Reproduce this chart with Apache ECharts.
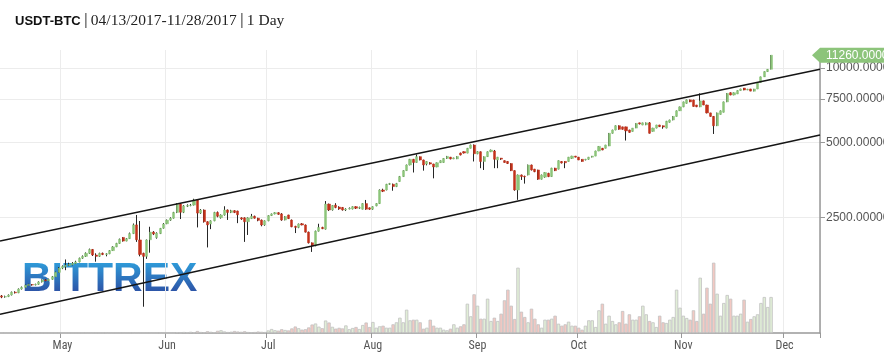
<!DOCTYPE html>
<html>
<head>
<meta charset="utf-8">
<title>USDT-BTC</title>
<script src="https://cdn.jsdelivr.net/npm/echarts@6/dist/echarts.min.js"></script>
<style>
  html, body { margin: 0; padding: 0; background: #fff; }
  #wrap { position: relative; width: 884px; height: 352px; }
  #chart { position: absolute; left: 0; top: 0; width: 884px; height: 352px; z-index: 2; }
  #logo {
    position: absolute; left: 22px; top: 254px; z-index: 1;
    font: bold 41px "Liberation Sans", Arial, sans-serif; line-height: 46px;
    background: linear-gradient(#2fb0e8, #2c3f98);
    -webkit-background-clip: text; background-clip: text; color: transparent;
  }
</style>
</head>
<body>
<div id="wrap">
  <div id="logo">BITTREX</div>
  <div id="chart"></div>
</div>
<script>
// daily candles from 2017-04-13, [open, close, low, high]
const candles = [
  [1205,1192,1180,1215],[1192,1198,1185,1208],[1198,1215,1192,1222],[1215,1248,1210,1255],[1248,1240,1232,1258],
  [1240,1285,1236,1292],[1285,1305,1278,1315],[1305,1330,1298,1340],[1330,1338,1322,1348],[1338,1334,1325,1346],
  [1334,1342,1328,1350],[1342,1372,1336,1380],[1372,1398,1365,1405],[1398,1388,1380,1410],[1388,1406,1382,1415],
  [1406,1440,1400,1450],[1440,1500,1435,1510],[1500,1560,1495,1575],[1560,1585,1545,1600],[1585,1600,1530,1690],
  [1600,1612,1590,1640],[1612,1630,1600,1650],[1630,1652,1620,1670],[1652,1710,1645,1720],[1710,1740,1700,1755],
  [1740,1790,1730,1805],[1790,1855,1780,1870],[1855,1762,1745,1862],[1762,1740,1656,1790],[1740,1790,1730,1800],
  [1790,1770,1760,1802],[1770,1782,1740,1792],[1782,1835,1775,1845],[1835,1900,1830,1912],[1900,1962,1895,1972],
  [1962,2040,1955,2052],[2074,2005,1995,2080],[2005,2050,2000,2062],[2050,2150,2045,2170],[2150,2330,2140,2360],
  [2330,2030,1990,2555],[2026,1770,1740,2416],[1790,1740,1090,1800],[1740,2026,1700,2035],[2030,2180,1800,2290],
  [2180,2140,2120,2200],[2070,2160,2050,2175],[2150,2255,2140,2265],[2260,2350,2250,2370],[2355,2435,2345,2450],
  [2435,2480,2420,2500],[2480,2615,2470,2630],[2615,2820,2600,2850],[2830,2620,2460,2850],[2620,2780,2600,2800],
  [2770,2790,2750,2820],[2790,2800,2770,2830],[2800,2935,2790,2970],[2945,2600,2276,2960],[2600,2676,2580,2700],
  [2676,2400,2380,2690],[2400,2330,1890,2410],[2350,2420,2240,2430],[2420,2615,2410,2630],[2615,2525,2500,2640],
  [2490,2555,2470,2570],[2555,2676,2540,2770],[2676,2615,2440,2690],[2615,2660,2600,2680],[2660,2615,2600,2670],
  [2650,2560,2368,2660],[2488,2460,2440,2500],[2488,2400,1990,2500],[2400,2488,2122,2500],[2470,2525,2460,2580],
  [2525,2480,2470,2540],[2480,2430,2410,2490],[2437,2328,2300,2450],[2328,2420,2310,2430],[2420,2540,2410,2550],
  [2540,2580,2530,2590],[2580,2610,2570,2620],[2610,2570,2560,2620],[2580,2437,2420,2600],[2437,2520,2430,2530],
  [2555,2470,2460,2560],[2437,2290,2280,2450],[2300,2276,2160,2310],[2276,2350,2260,2360],[2355,2328,2320,2370],
  [2328,2179,2170,2340],[2179,1973,1960,2190],[1973,1918,1813,1980],[1918,2198,1910,2210],[2198,2276,2190,2355],
  [2276,2250,2240,2290],[2240,2827,2230,2907],[2827,2676,2650,2840],[2676,2790,2660,2800],[2800,2740,2720,2850],
  [2750,2700,2680,2770],[2740,2676,2660,2750],[2676,2700,2650,2720],[2700,2720,2690,2740],[2700,2760,2690,2770],
  [2760,2720,2700,2770],[2720,2740,2700,2760],[2695,2840,2690,2850],[2840,2695,2680,2937],[2730,2695,2680,2740],
  [2695,2760,2680,2770],[2780,2840,2770,2850],[2840,3222,2830,3240],[3222,3183,3160,3260],[3222,3397,3210,3410],
  [3397,3420,3380,3440],[3397,3326,3200,3420],[3326,3420,3310,3440],[3487,3650,3480,3670],[3650,3856,3640,3870],
  [3856,4064,3850,4080],[4064,4284,4050,4300],[4284,4160,3790,4300],[4160,4390,4150,4480],[4390,4257,4240,4400],
  [4257,4064,3856,4270],[4100,4198,4050,4210],[4150,4100,4080,4170],[4100,3990,3590,4110],[3990,4150,3980,4160],
  [4150,4230,4140,4240],[4160,4318,4150,4330],[4318,4400,4300,4420],[4370,4300,4280,4380],[4300,4340,4290,4350],
  [4300,4400,4290,4410],[4540,4460,4440,4560],[4600,4540,4520,4610],[4538,4746,4530,4760],[4746,4893,4740,4910],
  [4893,4510,4198,4920],[4510,4600,4490,4620],[4595,4198,3945,4610],[4198,4390,3880,4400],[4390,4595,4380,4610],
  [4595,4671,4580,4690],[4628,4284,3945,4671],[4257,4370,3945,4380],[4330,4290,4260,4340],[4230,4160,4150,4240],
  [4200,4120,4100,4210],[4120,3856,3840,4130],[3856,3222,3200,3870],[3222,3704,2940,3720],[3704,3650,3536,3720],
  [3660,3640,3418,3680],[3704,4064,3690,4080],[4064,3880,3860,4080],[3910,3820,3800,3920],[3880,3560,3540,3890],
  [3560,3704,3550,3720],[3630,3790,3610,3800],[3760,3650,3630,3780],[3650,3945,3640,3960],[3945,3856,3840,3960],
  [3910,4230,3900,4240],[4198,4140,4120,4210],[4200,4150,3945,4210],[4198,4370,4190,4380],[4318,4414,4300,4425],
  [4414,4370,4360,4420],[4370,4257,4250,4380],[4284,4198,4190,4290],[4257,4284,4240,4300],[4284,4370,4270,4380],
  [4370,4414,4360,4420],[4414,4628,4410,4640],[4628,4829,4620,4840],[4746,4671,4660,4760],[4746,4893,4740,4900],
  [4847,5455,4840,5470],[5455,5624,5440,5640],[5624,5852,5610,5870],[5852,5660,5640,5870],[5790,5660,5640,5800],
  [5790,5580,5100,5800],[5624,5500,5480,5640],[5550,5725,5540,5730],[5725,5980,5720,5990],[6010,5950,5920,6020],
  [5891,6010,5880,6020],[5900,6010,5880,6030],[6010,5455,5440,6050],[5550,5725,5540,5740],[5725,5891,5710,5900],
  [5891,5800,5780,5900],[5850,5780,5690,5860],[5725,6100,5710,6120],[6040,6171,6020,6190],[6171,6380,6150,6400],
  [6380,6720,6370,6740],[6720,6970,6710,6990],[6970,7300,6950,7320],[7200,7440,7180,7460],[7440,7300,7280,7460],
  [7430,7000,6980,7450],[7093,6980,6950,7100],[6970,7370,6950,7900],[7370,7093,7080,7390],[7093,6590,6560,7110],
  [6590,6380,6360,6600],[6380,5850,5420,6400],[5850,6590,5830,6610],[6500,6720,6490,6740],[6630,7300,6620,7320],
  [7300,7900,7280,7920],[7950,7780,7760,7980],[7780,7950,7760,7970],[7860,8110,7850,8130],[8110,8230,8100,8250],
  [8300,8150,8130,8310],[8150,8200,8140,8240],[8230,8070,8060,8240],[8060,8230,8050,8240],[8230,8740,8220,8760],
  [8740,9210,8730,9230],[9210,9670,9200,9690],[9670,9880,9650,9900],[9880,11260,9870,11280]
];

// daily volume (relative units), same days as candles
const volumes = [
  0,0,0,0,0,0,0,0,0,0, 0,0,0,0,0,0,0,0,0,0, 0,0,0,0,0,0,0,0,0,0,
  0,0,0,0,0,0,0,0,0,0, 0,0,0,0,0,0,0,0,0,0, 0,0,
  0.8,0.5,1.0,0.6,1.2,0.8,2.0,1.0,0.7,
  1.8,1.2,0.9,2.2,2.8,1.6,1.0,1.3,2.0,1.5,
  1.2,1.8,1.0,0.8,1.0,1.5,1.2,1.0,2.6,4.0,
  2.8,2.4,3.8,3.0,2.6,4.6,6.5,4.8,3.4,3.8,
  5.6,8.5,9.5,6.4,4.8,12.5,10.5,6.2,4.4,5.2,
  4.6,7.6,3.8,5.0,6.0,4.0,8.0,10.5,6.0,
  11,5.3,6.7,7.3,5.3,5.3,8.7,10.7,15.3,10.7,
  23.3,12.7,13.3,13.3,10.7,4.3,5.3,13.3,7.3,5.3,
  5.3,3.3,2.7,4.3,8.7,5.3,6.7,8.7,29.3,16.7,
  38.7,27.3,14.3,14.3,34.3,12,15.3,12,19.3,32.7,
  43.3,27.3,14,65.3,21.3,16,10.7,24.3,14.3,8.7,
  5.3,13.3,13.3,14.3,17.3,9.3,7.3,8.7,11.3,7.3,
  7.3,5.3,3.3,7.3,12.7,12.7,6,22.7,29.3,9.3,
  17.3,12,
  8.7,10.7,22,9.3,18.7,13.3,13.3,16.7,27.3,
  18.7,12,10.7,6,17.3,10.7,10,13.3,16,43.3,25.3,
  17.3,15,13.3,22.7,12,55.3,19.3,45.3,29.3,70.3,39.3,
  17.3,30,38,34.3,17.3,17.3,19.3,33.3,11.3,14,
  16.7,18.7,30,36,26,36
];

const channelUpper = [2006, 9880];   // value at left edge, right edge
const channelLower = [1016, 5368];
const priceTicks = [2500, 5000, 7500, 10000];
const priceRange = [854, 11818];
const volumeMax = 71;

const monthNames = ['Jan','Feb','Mar','Apr','May','Jun','Jul','Aug','Sep','Oct','Nov','Dec'];
const categories = [];
for (let i = 0; i < 243; i++) {
  const d = new Date(Date.UTC(2017, 3, 13 + i));
  categories.push(d.toISOString().slice(0, 10));
}
const isMonthStart = (idx, val) => val.slice(8) === '01';

const lg = Math.log10;
const upColor = '#8cc47a';
const downColor = '#c2311a';

const wickData = candles.map(c => [lg(c[0]), lg(c[1]), lg(c[2]), lg(c[3])]);
const bodyData = candles.map(c => [lg(c[0]), lg(c[1]), lg(Math.min(c[0], c[1])), lg(Math.max(c[0], c[1]))]);
const volumeData = volumes.map((v, i) => ({
  value: v,
  itemStyle: { color: candles[i][1] >= candles[i][0] ? '#e1eed7' : '#f3c9c3' }
}));

const chart = echarts.init(document.getElementById('chart'));
chart.setOption({
  animation: false,
  backgroundColor: 'transparent',
  title: {
    left: 10,
    top: 8,
    text: '{a|USDT-BTC}{p||}{b|04/13/2017-11/28/2017}{p||}{b|1 Day}',
    textStyle: {
      rich: {
        a: { fontFamily: '"Liberation Sans", Arial, sans-serif', fontWeight: 'bold', fontSize: 13, color: '#111' },
        p: { fontFamily: '"Liberation Sans", Arial, sans-serif', fontWeight: 'normal', fontSize: 16, color: '#666', padding: [0, 3, 0, 3] },
        b: { fontFamily: '"Liberation Serif", "DejaVu Serif", serif', fontWeight: 'normal', fontSize: 15.5, color: '#222' }
      }
    }
  },
  grid: [
    { left: 0, right: 64, top: 50, bottom: 19, outerBoundsMode: 'none' },
    { left: 0, right: 64, top: 262, bottom: 19, outerBoundsMode: 'none' }
  ],
  xAxis: [
    {
      type: 'category', gridIndex: 0, data: categories, boundaryGap: true,
      axisLine: { show: false }, axisTick: { show: false }, axisLabel: { show: false },
      splitLine: { show: true, interval: isMonthStart, lineStyle: { color: '#ececec', width: 1 } }
    },
    {
      type: 'category', gridIndex: 1, data: categories, boundaryGap: true,
      axisLine: { show: true, lineStyle: { color: '#999', width: 1.5 } },
      axisTick: { show: true, interval: isMonthStart, length: 5, lineStyle: { color: '#999' } },
      axisLabel: {
        interval: isMonthStart, margin: 7, color: '#555', fontSize: 12,
        fontFamily: '"Liberation Sans Narrow", "Arial Narrow", "Roboto Condensed", sans-serif',
        formatter: v => monthNames[+v.slice(5, 7) - 1]
      },
      splitLine: { show: false }
    },
    { type: 'value', gridIndex: 0, min: 0, max: 1, show: false }
  ],
  yAxis: [
    {
      type: 'value', gridIndex: 0, position: 'right',
      min: lg(priceRange[0]), max: lg(priceRange[1]),
      axisLine: { show: true, onZero: false, lineStyle: { color: '#999', width: 1.5 } },
      axisTick: { show: true, length: 5, customValues: priceTicks.map(lg), lineStyle: { color: '#999' } },
      axisLabel: {
        customValues: priceTicks.map(lg), margin: 6, color: '#555', fontSize: 12,
        fontFamily: '"Liberation Sans", Arial, sans-serif',
        formatter: v => Math.round(Math.pow(10, v)).toFixed(6)
      },
      splitLine: { show: true, lineStyle: { color: '#ececec' } }
    },
    { type: 'value', gridIndex: 1, min: 0, max: volumeMax, show: false }
  ],
  series: [
    {
      type: 'bar', xAxisIndex: 1, yAxisIndex: 1, data: volumeData,
      barCategoryGap: '0%', z: 1,
      itemStyle: { borderColor: '#c2c2c2', borderWidth: 0.8 }
    },
    {
      type: 'candlestick', xAxisIndex: 0, yAxisIndex: 0, data: wickData,
      barWidth: 1, z: 3,
      itemStyle: { color: '#262626', color0: '#262626', borderColor: '#262626', borderColor0: '#262626', borderWidth: 1 }
    },
    {
      type: 'candlestick', xAxisIndex: 0, yAxisIndex: 0, data: bodyData,
      barWidth: 2.6, z: 4,
      itemStyle: { color: upColor, color0: downColor, borderColor: upColor, borderColor0: downColor, borderWidth: 0.5 }
    },
    {
      type: 'line', xAxisIndex: 2, yAxisIndex: 0, z: 5, symbol: 'none', silent: true,
      data: [[0, lg(channelUpper[0])], [1, lg(channelUpper[1])]],
      lineStyle: { color: '#151515', width: 1.5 }
    },
    {
      type: 'line', xAxisIndex: 2, yAxisIndex: 0, z: 5, symbol: 'none', silent: true,
      data: [[0, lg(channelLower[0])], [1, lg(channelLower[1])]],
      lineStyle: { color: '#151515', width: 1.5 }
    }
  ]
});

// last price tag on the right axis
const last = candles[candles.length - 1][1];
const py = chart.convertToPixel({ yAxisIndex: 0 }, lg(last));
chart.setOption({
  graphic: [
    {
      type: 'polygon', id: 'tagBox', z: 10, silent: true,
      shape: { points: [[812, py], [820, py - 7.5], [884, py - 7.5], [884, py + 7.5], [820, py + 7.5]] },
      style: { fill: upColor }
    },
    {
      type: 'text', id: 'tagText', z: 11, x: 826, y: py, silent: true,
      style: { text: last.toFixed(6), fill: '#fff', font: '12px "Liberation Sans", Arial, sans-serif', verticalAlign: 'middle' }
    }
  ]
});
</script>
</body>
</html>
